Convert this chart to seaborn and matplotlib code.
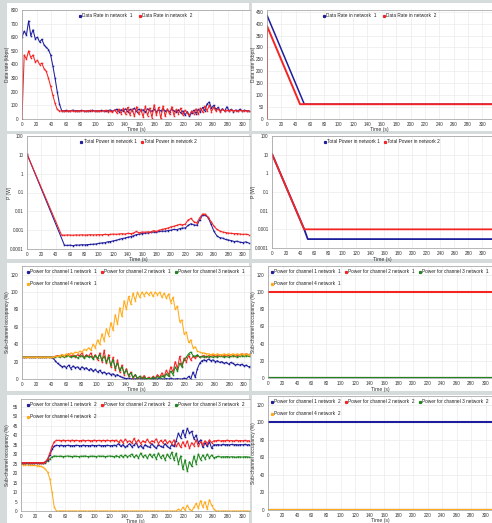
import matplotlib
matplotlib.use("Agg")
import matplotlib.pyplot as plt
from matplotlib.lines import Line2D
from matplotlib.patches import Rectangle
import seaborn as sns

sns.set_style("white")
plt.rcParams["font.family"] = ["Liberation Sans", "DejaVu Sans"]

W, H = 492, 523
BLUE, RED, GREEN, ORANGE = "#1e1e9c", "#f42424", "#1f861f", "#ffab1c"

# ---------------- data ----------------
# sample times of the simulated runs (s)
T = list(range(0, 310, 3))

# data rate per network, simulated channel (kbps)
RATE_N1 = [600, 645, 615, 720, 610, 655, 590, 600, 565, 585,
           545, 525, 510, 470, 390, 300, 200, 110, 62, 60,
           63, 58, 61, 65, 60, 62, 58, 63, 60, 57,
           62, 60, 64, 58, 61, 59, 63, 60, 57, 62,
           66, 58, 63, 72, 55, 68, 60, 75, 52, 70,
           62, 80, 55, 72, 60, 68, 50, 75, 62, 58,
           70, 55, 66, 60, 72, 58, 64, 55, 70, 60,
           52, 68, 45, 60, 30, 55, 20, 45, 65, 40,
           70, 55, 85, 60, 110, 125, 80, 100, 70, 85,
           60, 75, 58, 90, 62, 70, 55, 66, 60, 72,
           58, 65, 60, 62]
RATE_N2 = [0, 470, 440, 500, 450, 470, 420, 430, 400, 410,
           370, 350, 300, 240, 175, 115, 70, 60, 58, 61,
           57, 60, 62, 58, 60, 57, 62, 59, 61, 58,
           60, 63, 57, 61, 58, 62, 56, 60, 64, 55,
           62, 50, 68, 45, 72, 40, 78, 35, 85, 30,
           75, 20, 90, 35, 70, 15, 95, 25, 80, 10,
           105, 30, 85, 5, 95, 20, 75, 35, 90, 25,
           70, 40, 80, 30, 65, 45, 30, 60, 40, 75,
           35, 80, 50, 95, 60, 100, 55, 85, 60, 75,
           55, 70, 60, 65, 58, 68, 60, 62, 58, 64,
           60, 62, 58, 61]

# data rate per network, ideal channel (kbps)
RATE_IDEAL_N1_T = [0, 52, 314]
RATE_IDEAL_N1 = [435, 62, 62]
RATE_IDEAL_N2_T = [0, 0, 46, 314]
RATE_IDEAL_N2 = [0, 390, 62, 62]

# total transmit power, simulated channel (W)
POW_N1_T = [0] + list(range(52, 311, 4))
POW_N1 = [11,
          0.00016, 0.000155, 0.00016, 0.00015, 0.000165, 0.00016, 0.00017, 0.000165, 0.00017, 0.000175,
          0.00018, 0.000185, 0.0002, 0.00021, 0.000215, 0.00024, 0.00025, 0.00027, 0.00029, 0.00032,
          0.00036, 0.00038, 0.00042, 0.00045, 0.0005, 0.00058, 0.00062, 0.00066, 0.0007, 0.00072,
          0.00076, 0.0008, 0.00078, 0.00085, 0.0009, 0.00088, 0.00095, 0.001, 0.0011, 0.00105,
          0.0012, 0.0013, 0.0013, 0.0018, 0.0022, 0.0019, 0.0018, 0.0035, 0.0062, 0.0063,
          0.0045, 0.002, 0.00085, 0.0005, 0.0004, 0.00038, 0.00032, 0.0003, 0.00028, 0.00025,
          0.00026, 0.00023, 0.00022, 0.00024, 0.00021]
POW_N2_T = [0] + list(range(48, 311, 4))
POW_N2 = [11,
          0.00055, 0.00054, 0.00056, 0.00055, 0.00054, 0.00056, 0.00055, 0.00057, 0.00055, 0.00056,
          0.00058, 0.00056, 0.00057, 0.00058, 0.00057, 0.0006, 0.00058, 0.0006, 0.00062, 0.0006,
          0.00063, 0.00065, 0.00062, 0.00068, 0.00066, 0.0007, 0.00085, 0.00072, 0.0008, 0.00078,
          0.00082, 0.0008, 0.00095, 0.00085, 0.001, 0.0011, 0.0012, 0.0013, 0.0015, 0.0016,
          0.0018, 0.002, 0.0019, 0.0021, 0.0035, 0.0042, 0.0028, 0.0024, 0.0045, 0.0072,
          0.007, 0.0048, 0.0028, 0.0016, 0.0011, 0.0009, 0.0008, 0.00075, 0.0007, 0.00068,
          0.00065, 0.00066, 0.00062, 0.0006, 0.00061, 0.00058]

# total transmit power, ideal channel (W)
POW_IDEAL_N1_T = [0, 46, 51, 314]
POW_IDEAL_N1 = [11, 0.001, 0.0003, 0.0003]
POW_IDEAL_N2_T = [0, 46, 314]
POW_IDEAL_N2 = [11, 0.001, 0.001]

# sub-channel occupancy, network 1, simulated channel (%)
OCC_N1 = {
    1: [25, 25, 25, 25, 25, 25, 25, 25, 25, 25,
        25, 25, 25, 25, 24, 21, 18, 16, 14, 15,
        13, 16, 12, 15, 13, 14, 11, 14, 12, 13,
        10, 12, 9, 11, 8, 10, 7, 8, 6, 7,
        5, 6, 4, 5, 3, 2, 1, 0.5, 1, 0,
        0.5, 0, 1, 0, 0.5, 0, 0, 1, 0, 0.5,
        0, 0, 1, 0, 0, 0.5, 0, 1, 0, 0,
        0.5, 0, 0, 1, 0, 3, 0, 8, 2, 12,
        18, 21, 22, 21, 23, 21, 22, 20, 21, 19,
        20, 18, 19, 17, 19, 18, 16, 17, 16, 17,
        15, 16, 14, 15],
    2: [25, 25, 25, 25, 25, 25, 25, 25, 25, 25,
        25, 25, 25, 25, 25, 26, 27, 26, 28, 26,
        27, 29, 26, 28, 25, 28, 27, 30, 25, 28,
        26, 30, 24, 28, 22, 30, 20, 33, 18, 28,
        14, 25, 10, 22, 8, 16, 5, 12, 3, 8,
        1, 5, 0, 3, 1, 4, 0, 2, 0, 3,
        1, 5, 2, 7, 3, 10, 5, 14, 8, 20,
        12, 26, 15, 24, 20, 27, 22, 26, 24, 27,
        25, 26, 27, 25, 27, 26, 28, 26, 27, 28,
        26, 27, 28, 27, 28, 27, 28, 27, 28, 29,
        28, 29, 28, 29],
    3: [25, 25, 25, 25, 25, 25, 25, 25, 25, 25,
        25, 25, 25, 25, 25, 25, 26, 25, 27, 25,
        26, 27, 25, 26, 27, 24, 26, 27, 24, 27,
        25, 26, 23, 27, 24, 28, 22, 26, 19, 25,
        16, 22, 13, 18, 10, 14, 7, 10, 4, 7,
        2, 5, 1, 3, 0, 2, 0, 1, 0, 2,
        0, 3, 1, 4, 2, 6, 3, 9, 5, 14,
        9, 18, 14, 22, 25, 29, 31, 27, 26, 28,
        25, 26, 25, 26, 25, 26, 25, 26, 25, 26,
        27, 25, 26, 25, 26, 27, 26, 25, 26, 27,
        26, 27, 26, 27],
    4: [25, 25, 25, 25, 25, 25, 25, 25, 25, 25,
        25, 25, 25, 25, 25, 26, 26, 27, 28, 27,
        29, 28, 30, 29, 31, 30, 32, 31, 34, 33,
        36, 33, 40, 36, 45, 40, 52, 44, 58, 50,
        65, 56, 74, 63, 82, 72, 90, 80, 95, 86,
        99, 90, 100, 94, 100, 96, 100, 97, 100, 95,
        100, 97, 100, 94, 99, 93, 98, 88, 94, 80,
        84, 66, 68, 52, 54, 42, 45, 36, 37, 32,
        31, 30, 30, 29, 29, 28, 29, 28, 29, 28,
        28, 29, 28, 29, 28, 29, 28, 29, 28, 29,
        28, 29, 28, 29],
}

# sub-channel occupancy, network 2, simulated channel (%)
OCC_N2 = {
    1: [25.3, 25.3, 25.3, 25.3, 25.3, 25.3, 25.3, 25.3, 25.3, 25.3,
        25.3, 25.8, 27, 29.5, 32.5, 34.2, 34.6, 34.5, 34.6, 34.4,
        34.5, 34.6, 34.5, 34.4, 34.5, 34.6, 34.5, 34.4, 34.6, 34.5,
        34.5, 34.4, 34.6, 34.5, 34.5, 34.6, 34.4, 34.5, 34.5, 34.6,
        34.4, 34.5, 34.6, 34.5, 35.5, 34, 35, 33.5, 34.5, 35.5,
        33.8, 34.8, 36, 33.5, 34.5, 33, 35, 34, 33.5, 35.5,
        34, 33, 35, 34, 33.5, 35.5, 34, 33, 35, 34,
        37, 41, 38.5, 42.5, 39, 43.5, 41, 42, 38, 40,
        36, 37.5, 33.5, 36, 34, 36.5, 33, 35, 34.8, 35,
        34.7, 35.1, 34.9, 35, 34.8, 35.1, 34.9, 35, 34.8, 35,
        34.9, 35.1, 34.8, 35],
    2: [25.5, 25.5, 25.5, 25.5, 25.5, 25.5, 25.5, 25.5, 25.5, 25.5,
        25.5, 26, 27.5, 30.5, 34, 36.5, 37.2, 37.2, 37, 37.3,
        37.1, 37.2, 37, 37.3, 37.1, 37.2, 37, 37.1, 37.3, 37,
        37.2, 37.1, 37, 37.3, 37.1, 37.2, 37, 37.2, 37.1, 37.3,
        37, 37.2, 37.1, 37.3, 36.2, 37.5, 36, 37.8, 36.5, 37,
        35.8, 38.2, 36, 37.5, 35.5, 37, 36.2, 37.8, 35.8, 37,
        36.5, 38, 35.5, 37.2, 36, 37.6, 35.6, 37, 35.5, 37.5,
        34, 36, 33.5, 36.5, 34, 37, 33, 36, 34.5, 37.5,
        34, 36.5, 35, 37, 35.5, 37.5, 36, 37, 37, 37.2,
        36.9, 37.1, 37, 37.3, 37, 37.1, 36.9, 37.2, 37, 37.1,
        37, 37.2, 36.9, 37.1],
    3: [25.2, 25.2, 25.2, 25.2, 25.2, 25.2, 25.2, 25.2, 25.2, 25.2,
        25.2, 25.5, 26.3, 27.5, 28.5, 29, 28.8, 28.8, 28.9, 28.7,
        28.8, 29, 28.8, 28.7, 28.9, 28.8, 28.7, 28.9, 28.8, 29,
        28.7, 28.8, 28.9, 28.8, 28.7, 29, 28.8, 28.9, 28.7, 28.8,
        29, 28.8, 28.6, 29.2, 28.5, 29.3, 28.4, 29.5, 28.6, 29.2,
        30, 28.2, 29.5, 28, 30.5, 28.5, 29.5, 27.8, 30, 28.5,
        29.8, 27.5, 30.5, 28, 29.5, 27, 30, 28, 31, 27,
        30.5, 25, 29, 22, 27, 21, 26, 23.5, 29, 25,
        30, 27, 29.5, 27.5, 30, 28, 29.5, 28, 28.5, 28.8,
        28.4, 28.6, 28.5, 28.7, 28.4, 28.6, 28.5, 28.3, 28.6, 28.5,
        28.4, 28.6, 28.5, 28.4],
    4: [24.6, 24.4, 24.3, 24.2, 24.1, 24, 24, 23.9, 23.8, 23.5,
        23, 22, 20.5, 17, 10, 2, 0, 0, 0, 0,
        0, 0, 0, 0, 0, 0, 0, 0, 0, 0,
        0, 0, 0, 0, 0, 0, 0, 0, 0, 0,
        0, 0, 0, 0, 0, 0, 0, 0, 0, 0,
        0, 0, 0, 0, 0, 0, 0, 0, 0, 0,
        0, 0, 0, 0, 0, 0, 0, 0, 0, 0,
        0, 1, 0, 2, 0.5, 3, 1, 0, 2, 4,
        1.5, 5.5, 2, 5, 1, 6, 3, 1, 0, 0,
        0, 0, 0, 0, 0, 0, 0, 0, 0, 0,
        0, 0, 0, 0],
}

# sub-channel occupancy, ideal channel (%)
OCC_IDEAL_T = [0, 314]
OCC_IDEAL_N1 = {1: [0, 0], 2: [100, 100], 3: [0, 0], 4: [0, 0]}
OCC_IDEAL_N2 = {1: [100, 100], 2: [0, 0], 3: [0, 0], 4: [0, 0]}

X_TICKS = list(range(0, 301, 20))
LOG_TICKS = [0.0001, 0.001, 0.01, 0.1, 1, 10, 100]
LOG_LABELS = ["0.0001", "0.001", "0.01", "0.1", "1", "10", "100"]
CH_COLORS = {1: BLUE, 2: RED, 3: GREEN, 4: ORANGE}

# ---------------- figure ----------------
fig = plt.figure(figsize=(W / 100, H / 100), dpi=100)
fig.patch.set_facecolor("#d5dbdb")

for (x0, x1) in [(7, 249), (252, 492)]:
    for (y0, y1) in [(3, 131), (134, 259), (263, 391), (395, 523)]:
        fig.add_artist(Rectangle((x0 / W, 1 - y1 / H), (x1 - x0) / W, (y1 - y0) / H,
                                 transform=fig.transFigure, facecolor="white",
                                 edgecolor="none", zorder=-5))


def make_axes(rect):
    l, t, r, b = rect
    return fig.add_axes([l / W, 1 - b / H, (r - l) / W, (b - t) / H])


def style(ax, rect, xmax, ylim, yticks, ylabel, xlab_y, ylab_x, ylabels=None, log=False):
    l, t, r, b = rect
    if log:
        ax.set_yscale("log")
    ax.set_xlim(0, xmax)
    ax.set_ylim(*ylim)
    ax.set_xticks(X_TICKS)
    ax.set_yticks(yticks)
    if ylabels is not None:
        ax.set_yticklabels(ylabels)
    ax.minorticks_off()
    ax.tick_params(labelsize=3.3, length=1.6, width=0.4, pad=0.8,
                   color="#777777", labelcolor="#333333")
    ax.grid(True, color="#ececec", lw=0.5)
    ax.set_axisbelow(True)
    for s in ["left", "bottom", "top"]:
        ax.spines[s].set_color("#9a9a9a")
        ax.spines[s].set_linewidth(0.5)
    ax.spines["right"].set_visible(False)
    ax.set_xlabel("Time (s)", fontsize=3.7, color="#333333")
    ax.set_ylabel(ylabel, fontsize=3.5, color="#333333")
    ax.xaxis.set_label_coords(0.5, (b - xlab_y) / (b - t))
    ax.xaxis.label.set_va("center")
    ax.yaxis.set_label_coords((ylab_x - l) / (r - l), 0.5)
    ax.yaxis.label.set_va("center")


def line(ax, x, y, color, lw=0.75, ms=1.1):
    sns.lineplot(x=x, y=y, ax=ax, color=color, lw=lw, estimator=None,
                 marker="s", ms=ms, mew=0, legend=False)


def legend(ax, labels, colors, ncol, order=None, colsp=1.3):
    handles = [Line2D([], [], ls="none", marker="s", ms=1.3, color=c, mec=c) for c in colors]
    if order is not None:
        handles = [handles[i] for i in order]
        labels = [labels[i] for i in order]
    ax.legend(handles, labels, loc="upper center", bbox_to_anchor=(0.5, 1.0), ncol=ncol,
              frameon=False, fontsize=3.4, handlelength=0.4, handletextpad=0.25,
              columnspacing=colsp, borderaxespad=0.3, labelspacing=1.5,
              labelcolor="#222222")


# ---- row 1: data rate ----
rect = (22, 10, 250, 119)
ax = make_axes(rect)
line(ax, T, RATE_N1, BLUE)
line(ax, T, RATE_N2, RED)
style(ax, rect, 310.5, (0, 800), list(range(0, 801, 100)), "Data rate (kbps)", 129.8, 8)
legend(ax, ["Data Rate in network  1", "Data Rate in network  2"], [BLUE, RED], 2)

rect = (267, 10, 492, 119)
ax = make_axes(rect)
line(ax, RATE_IDEAL_N1_T, RATE_IDEAL_N1, BLUE, lw=1.1, ms=0)
line(ax, RATE_IDEAL_N2_T, RATE_IDEAL_N2, RED, lw=1.4, ms=0)
style(ax, rect, 313.5, (0, 457), list(range(0, 451, 50)), "Data rate (kbps)", 129.8, 254)
legend(ax, ["Data Rate in network  1", "Data Rate in network  2"], [BLUE, RED], 2)

# ---- row 2: total power ----
rect = (27, 136, 250, 249)
ax = make_axes(rect)
line(ax, POW_N1_T, POW_N1, BLUE)
line(ax, POW_N2_T, POW_N2, RED)
style(ax, rect, 310, (0.0001, 100), LOG_TICKS, "P (W)", 259.5, 9, LOG_LABELS, log=True)
legend(ax, ["Total Power in network 1", "Total Power in network 2"], [BLUE, RED], 2, colsp=0.9)

rect = (272, 136, 492, 248)
ax = make_axes(rect)
line(ax, POW_IDEAL_N1_T, POW_IDEAL_N1, BLUE, lw=1.3, ms=0)
line(ax, POW_IDEAL_N2_T, POW_IDEAL_N2, RED, lw=1.3, ms=0)
style(ax, rect, 313.9, (0.0001, 100), LOG_TICKS, "P (W)", 259.0, 254, LOG_LABELS, log=True)
legend(ax, ["Total Power in network 1", "Total Power in network 2"], [BLUE, RED], 2, colsp=0.9)

# ---- rows 3 and 4: sub-channel occupancy ----
def occ_labels(net):
    return [f"Power for channel {c} network  {net}" for c in (1, 2, 3, 4)]

rect = (22, 266, 250, 379)
ax = make_axes(rect)
for c in (1, 2, 3, 4):
    line(ax, T, OCC_N1[c], CH_COLORS[c])
style(ax, rect, 308, (0, 130), list(range(0, 121, 20)), "Sub-channel occupancy (%)", 390, 8)
legend(ax, occ_labels(1), [BLUE, RED, GREEN, ORANGE], 3, order=[0, 3, 1, 2], colsp=0.9)

rect = (268, 266, 492, 378)
ax = make_axes(rect)
for c in (2, 1, 4, 3):
    line(ax, OCC_IDEAL_T, OCC_IDEAL_N1[c], CH_COLORS[c], lw=1.5, ms=0)
style(ax, rect, 308.7, (0, 130), list(range(0, 121, 20)), "Sub-channel occupancy (%)", 389.5, 254)
legend(ax, occ_labels(1), [BLUE, RED, GREEN, ORANGE], 3, order=[0, 3, 1, 2], colsp=0.9)

rect = (21, 399, 250, 511)
ax = make_axes(rect)
for c in (4, 3, 1, 2):
    line(ax, T, OCC_N2[c], CH_COLORS[c])
style(ax, rect, 309.9, (0, 59), list(range(0, 56, 5)), "Sub-channel occupancy (%)", 521, 8)
legend(ax, occ_labels(2), [BLUE, RED, GREEN, ORANGE], 3, order=[0, 3, 1, 2], colsp=0.9)

rect = (268, 396, 492, 510)
ax = make_axes(rect)
for c in (1, 2, 3, 4):
    line(ax, OCC_IDEAL_T, OCC_IDEAL_N2[c], CH_COLORS[c], lw=1.5, ms=0)
style(ax, rect, 308.7, (0, 130), list(range(0, 121, 20)), "Sub-channel occupancy (%)", 520.5, 254)
legend(ax, occ_labels(2), [BLUE, RED, GREEN, ORANGE], 3, order=[0, 3, 1, 2], colsp=0.9)

fig.savefig("out.png", dpi=100, facecolor=fig.get_facecolor())
